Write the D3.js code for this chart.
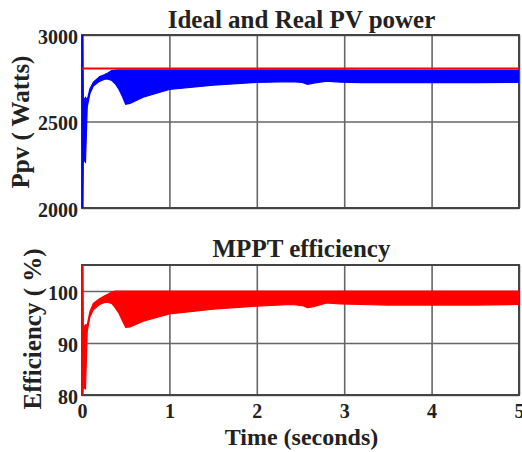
<!DOCTYPE html>
<html>
<head>
<meta charset="utf-8">
<script src="https://cdn.jsdelivr.net/npm/d3@7/dist/d3.min.js"></script>
<style>
  html, body { margin: 0; padding: 0; background: #fff; }
  svg { display: block; }
  text { font-family: "Liberation Serif", "Times New Roman", serif; font-weight: bold; fill: #222; }
</style>
</head>
<body>
<svg id="chart" width="522" height="452"></svg>
<script>
// ---- data ----
const time  = [0, 0.01, 0.015, 0.04, 0.06, 0.09, 0.13, 0.2, 0.26, 0.3, 0.34, 0.38, 0.42, 0.46, 0.5, 0.55, 0.7, 1.0, 1.5, 2.0, 2.4, 2.52, 2.58, 2.65, 2.8, 2.95, 3.2, 3.5, 4.0, 4.5, 5.0];
const pLow  = [2000, 2000, 2280, 2265, 2585, 2660, 2705, 2732, 2745, 2745, 2738, 2718, 2688, 2648, 2600, 2605, 2640, 2685, 2710, 2726, 2731, 2726, 2715, 2722, 2733, 2728, 2725, 2725, 2725, 2725, 2726];
const pHigh = [3000, 3000, 2620, 2640, 2625, 2688, 2728, 2758, 2772, 2782, 2794, 2797, 2798, 2798, 2798, 2798, 2798, 2798, 2798, 2798, 2798, 2798, 2798, 2798, 2798, 2798, 2797, 2797, 2797, 2797, 2797];
const idealPower = 2806;

const eLow  = [80, 80, 81.5, 81.2, 92.2, 95, 96.4, 97.4, 97.8, 97.8, 97.6, 96.8, 95.8, 94.4, 93, 93.1, 94.2, 95.6, 96.5, 97.1, 97.4, 97.2, 96.8, 97.0, 97.7, 97.5, 97.4, 97.3, 97.3, 97.3, 97.4];
const eHigh = [105, 105, 93, 93.5, 93.5, 96, 97.6, 98.5, 99.1, 99.4, 99.8, 100, 100, 100, 100, 100, 100, 100, 100, 100, 100, 100, 100, 100, 100, 100, 100, 100, 100, 100, 100];

const xTicks = [0, 1, 2, 3, 4, 5];
const pTicks = [2000, 2500, 3000];
const eTicks = [80, 90, 100];

const titles = ["Ideal and Real PV power", "MPPT efficiency"];
const yLabels = ["Ppv ( Watts)", "Efficiency ( %)"];
const xLabel = "Time (seconds)";

// ---- layout ----
const svg = d3.select("#chart");
const L = 82, R = 519;
const panels = [
  {top: 35, bottom: 208, domain: [2000, 3000], ticks: pTicks, low: pLow, high: pHigh, color: "#0000ff",
   title: titles[0], titleY: 28, ylab: yLabels[0], ylabX: 29, ylabY: 122, xLabels: false},
  {top: 265, bottom: 395, domain: [80, 105], ticks: eTicks, low: eLow, high: eHigh, color: "#ff0000",
   title: titles[1], titleY: 257, ylab: yLabels[1], ylabX: 41, ylabY: 329, xLabels: true}
];

const x = d3.scaleLinear().domain([0, 5]).range([L, R]);

panels.forEach((p, i) => {
  const y = d3.scaleLinear().domain(p.domain).range([p.bottom, p.top]);
  const h = p.bottom - p.top, w = R - L;
  const g = svg.append("g");

  const clipId = "clip" + i;
  svg.append("clipPath").attr("id", clipId)
    .append("rect").attr("x", L - 1.5).attr("y", p.top).attr("width", w + 1.5).attr("height", h);

  // grid via axes
  const gx = g.append("g").attr("transform", `translate(0,${p.bottom})`)
    .call(d3.axisBottom(x).tickValues(xTicks).tickSizeInner(-h).tickSizeOuter(0).tickPadding(9)
      .tickFormat(p.xLabels ? d3.format("d") : () => ""));
  gx.select(".domain").remove();
  gx.selectAll("line").attr("stroke", "#666").attr("stroke-width", 1.6);
  gx.selectAll("text").attr("font-size", 20).attr("fill", "#222");

  const gy = g.append("g").attr("transform", `translate(${L},0)`)
    .call(d3.axisLeft(y).tickValues(p.ticks).tickSizeInner(-w).tickSizeOuter(0).tickPadding(4)
      .tickFormat(d3.format("d")));
  gy.select(".domain").remove();
  gy.selectAll("line").attr("stroke", "#666").attr("stroke-width", 1.6);
  gy.selectAll("text").attr("font-size", 20).attr("dy", "0.42em").attr("fill", "#222");

  // frame
  g.append("rect").attr("x", L).attr("y", p.top).attr("width", w).attr("height", h)
    .attr("fill", "none").attr("stroke", "#444").attr("stroke-width", 2);

  // band
  const area = d3.area()
    .x((d, j) => x(time[j]))
    .y0((d, j) => y(p.low[j]))
    .y1((d, j) => y(p.high[j]));
  g.append("path").datum(time).attr("clip-path", `url(#${clipId})`)
    .attr("d", area).attr("fill", p.color).attr("stroke", p.color).attr("stroke-width", 1.2);

  if (i === 0) {
    const line = d3.line().x(d => x(d)).y(() => y(idealPower));
    g.append("path").datum([0, 5]).attr("d", line)
      .attr("stroke", "#ff0000").attr("stroke-width", 2).attr("fill", "none");
  }

  // title
  g.append("text").attr("x", (L + R) / 2 + 1).attr("y", p.titleY)
    .attr("text-anchor", "middle").attr("font-size", 25).text(p.title);

  // y label
  g.append("text").attr("transform", `translate(${p.ylabX},${p.ylabY}) rotate(-90)`)
    .attr("text-anchor", "middle").attr("font-size", 25).text(p.ylab);
});

svg.append("text").attr("x", (L + R) / 2 + 1).attr("y", 445)
  .attr("text-anchor", "middle").attr("font-size", 24).text(xLabel);
</script>
</body>
</html>
